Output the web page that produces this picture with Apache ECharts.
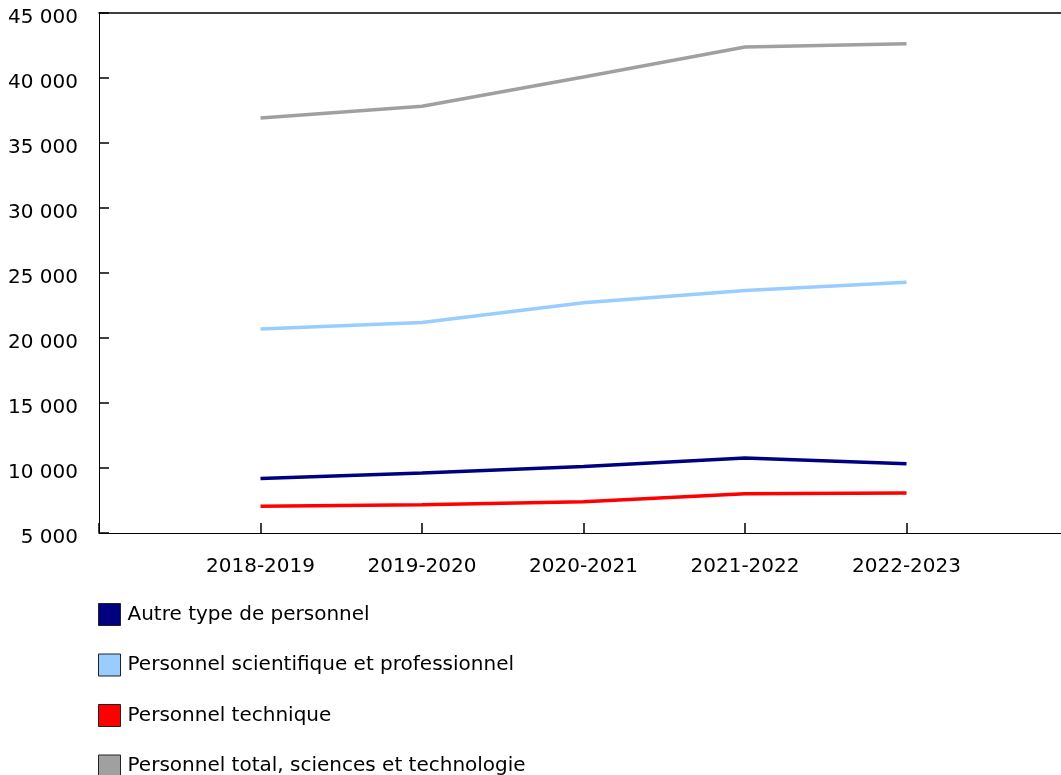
<!DOCTYPE html>
<html>
<head>
<meta charset="utf-8">
<script src="https://cdn.jsdelivr.net/npm/echarts@6/dist/echarts.min.js"></script>
<style>
html,body{margin:0;padding:0;background:#fff;}
#chart{width:1061px;height:775px;}
</style>
</head>
<body>
<div id="chart"></div>
<script>
const categories = ['2018-2019', '2019-2020', '2020-2021', '2021-2022', '2022-2023'];
const seriesNames = ['Autre type de personnel', 'Personnel scientifique et professionnel', 'Personnel technique', 'Personnel total, sciences et technologie'];
const autre = [9200, 9620, 10120, 10770, 10330];
const scientifique = [20690, 21200, 22720, 23660, 24280];
const technique = [7050, 7180, 7410, 8020, 8080];
const total = [36920, 37820, 40080, 42380, 42640];
const colors = ['#000080', '#99ccff', '#ff0000', '#a0a0a0'];
const yMin = 5000, yMax = 45000, yStep = 5000;

const values = [autre, scientifique, technique, total];
const paddedCats = [''].concat(categories, ['']);
const FONT = 'DejaVu Sans';

function fmt(v) {
  return String(v).replace(/\B(?=(\d{3})+(?!\d))/g, ' ');
}

const chart = echarts.init(document.getElementById('chart'), null, {renderer: 'canvas'});
chart.setOption({
  animation: false,
  backgroundColor: '#ffffff',
  textStyle: {fontFamily: FONT},
  grid: {left: 99, width: 969, top: 13, bottom: 242, containLabel: false, outerBoundsMode: 'none'},
  xAxis: [{
    type: 'category',
    data: paddedCats,
    boundaryGap: false,
    axisLine: {show: true, lineStyle: {color: '#000', width: 1}},
    axisTick: {show: true, inside: true, length: 10, interval: 0, lineStyle: {color: '#000', width: 1.5}},
    axisLabel: {interval: 0, margin: 24, color: '#000', fontSize: 20, fontFamily: FONT},
    splitLine: {show: false}
  }, {
    type: 'category',
    data: paddedCats,
    position: 'top',
    boundaryGap: false,
    axisLine: {show: true, lineStyle: {color: '#000', width: 1.5}},
    axisTick: {show: false},
    axisLabel: {show: false},
    splitLine: {show: false}
  }],
  yAxis: {
    type: 'value',
    min: yMin, max: yMax, interval: yStep,
    axisLine: {show: true, lineStyle: {color: '#000', width: 1}},
    axisTick: {show: true, inside: true, length: 10, lineStyle: {color: '#000', width: 1.5}},
    axisLabel: {margin: 21, color: '#000', fontSize: 20, fontFamily: FONT, formatter: fmt, verticalAlign: 'top', lineHeight: 10},
    splitLine: {show: false}
  },
  legend: {
    orient: 'vertical',
    left: 98, top: 603,
    height: 180,
    padding: 0,
    icon: 'rect',
    itemWidth: 22, itemHeight: 22, itemGap: 27.5,
    data: seriesNames,
    itemStyle: {borderColor: '#222', borderWidth: 1},
    textStyle: {color: '#000', fontSize: 20, lineHeight: 22, fontFamily: FONT, padding: [0, 0, 0, 2]}
  },
  series: values.map((vals, i) => ({
    name: seriesNames[i],
    type: 'line',
    data: [null].concat(vals, [null]),
    showSymbol: false,
    symbol: 'none',
    color: colors[i],
    itemStyle: {color: colors[i]},
    lineStyle: {color: colors[i], width: 3.5},
    emphasis: {disabled: true}
  }))
});
</script>
</body>
</html>
